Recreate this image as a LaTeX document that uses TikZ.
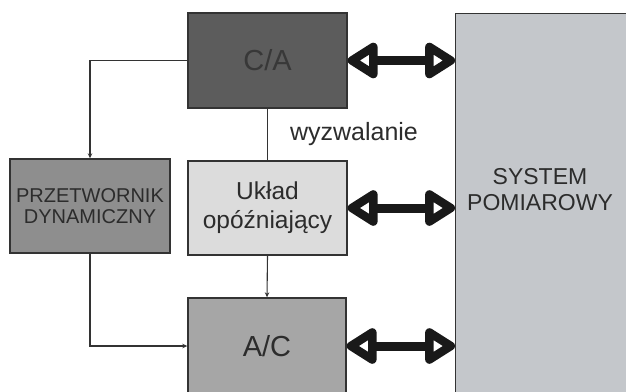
\documentclass[tikz,border=0pt]{standalone}
\usepackage{fontspec}
\setmainfont{Liberation Sans}
\usepackage{tikz}
\usetikzlibrary{arrows.meta,positioning}

\definecolor{edge}{HTML}{333333}
\definecolor{ink}{HTML}{2C2C2C}
\definecolor{cafill}{HTML}{5C5C5C}
\definecolor{convfill}{HTML}{8E8E8E}
\definecolor{delayfill}{HTML}{DCDCDC}
\definecolor{acfill}{HTML}{A6A6A6}
\definecolor{sysfill}{HTML}{C4C7CB}

\begin{document}
\begin{tikzpicture}[
    x=1pt, y=-1pt,
    block/.style={draw=edge, line width=1.4pt, inner sep=0pt, align=center, text=ink},
    wire/.style={draw=edge, line width=1.1pt},
    feed/.style={wire, -{Stealth[length=5pt,width=4.5pt]}},
    bushead/.tip={Triangle[open,round,length=34pt,width=40pt,line width=11pt]},
    bus/.style={draw=black!90, line width=9pt, bushead-bushead}
]
\path[use as bounding box, clip] (0,0) rectangle (626,391);

\node[block, fill=cafill, minimum width=159pt, minimum height=95pt, font=\fontsize{29}{34}\selectfont, text=black!78] (ca) at (267.5,60.5) {C/A};
\node[block, fill=convfill, minimum width=160pt, minimum height=94pt, font=\fontsize{20}{21.5}\selectfont] (conv) at (90,206) {PRZETWORNIK\\DYNAMICZNY};
\node[block, fill=delayfill, minimum width=159pt, minimum height=94pt, font=\fontsize{24.5}{29}\selectfont] (delay) at (267.5,208) {Układ\\opóźniający};
\node[block, fill=acfill, minimum width=158pt, minimum height=96pt, font=\fontsize{29}{34}\selectfont] (ac) at (267,346) {A/C};
\node[block, fill=sysfill, minimum width=180pt, minimum height=395pt, anchor=north west] (sys) at (455,13) {};
\node[text=ink, align=center, font=\fontsize{23}{26}\selectfont] (systxt) at (540,190) {SYSTEM\\POMIAROWY};
\node[text=ink, font=\fontsize{25}{30}\selectfont] (trig) at (354,134) {wyzwalanie};

\draw[feed] (ca.west) -| (conv.north);
\draw[wire] (ca.south) -- (delay.north);
\draw[feed] (delay.south) -- (ac.north);
\draw[feed] (conv.south) |- (ac.west);

\draw[bus] (ca.east) -- (ca.east -| sys.west);
\draw[bus] (delay.east) -- (delay.east -| sys.west);
\draw[bus] (ac.east) -- (ac.east -| sys.west);
\end{tikzpicture}
\end{document}
